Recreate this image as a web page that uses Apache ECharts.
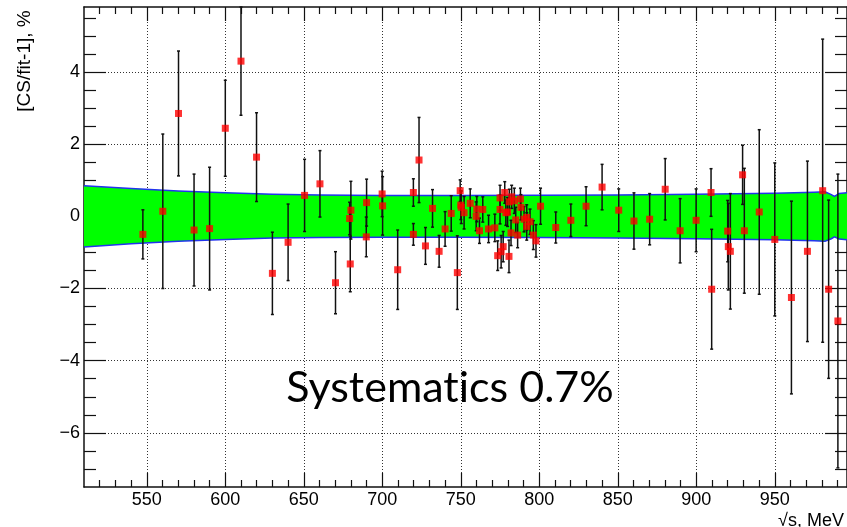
<!DOCTYPE html>
<html>
<head>
<meta charset="utf-8">
<script src="https://cdn.jsdelivr.net/npm/echarts@6/dist/echarts.min.js"></script>
<style>
html,body{margin:0;padding:0;background:#fff;}
#chart{width:847px;height:527px;}
</style>
</head>
<body>
<div id="chart"></div>
<script>
// ---- data ----
const energy = [547.5,560.2,570.2,580.1,590.0,600.0,610.0,619.9,630.0,640.0,650.5,660.3,670.2,680.0,679.2,679.6,690.0,689.8,699.9,700.2,709.8,719.8,719.8,723.4,727.5,732.0,736.2,740.0,743.9,747.8,749.6,750.0,750.3,752.1,756.0,759.8,760.2,761.9,764.0,767.7,771.7,773.5,775.0,775.0,775.7,777.0,778.0,778.7,779.8,780.7,780.9,782.0,782.4,784.1,785.0,786.2,788.0,788.3,790.3,792.0,792.0,794.1,796.2,797.9,800.8,810.5,820.1,829.8,840.0,850.6,860.3,870.3,880.2,889.7,899.9,909.4,909.8,920.0,920.4,921.7,929.5,930.6,940.1,950.0,960.6,970.8,980.5,984.3,990.2];
const ratio = [-0.50,0.14,2.85,-0.38,-0.34,2.44,4.30,1.64,-1.58,-0.72,0.58,0.90,-1.84,0.17,-0.06,-1.32,0.38,-0.57,0.62,0.29,-1.48,0.66,-0.50,1.56,-0.82,0.22,-0.97,-0.35,0.08,-1.56,0.71,0.31,0.25,0.10,0.36,0.00,0.20,-0.40,0.19,-0.35,-0.32,-1.09,0.51,0.19,-0.98,-0.84,0.66,0.10,0.12,-1.11,0.40,-0.46,0.54,0.43,-0.10,-0.52,0.48,0.25,-0.08,-0.28,-0.03,-0.15,-0.52,-0.68,0.28,-0.31,-0.11,0.28,0.81,0.17,-0.13,-0.08,0.75,-0.40,-0.11,0.66,-2.02,-0.41,-0.84,-0.97,1.15,-0.40,0.12,-0.64,-2.25,-0.97,0.71,-2.02,-2.90];
const ratioErr = [0.68,2.14,1.73,1.55,1.70,1.33,1.50,1.23,1.14,1.06,1.00,0.92,0.86,0.80,0.45,0.77,0.65,0.55,0.63,0.81,1.10,0.38,0.30,1.18,0.51,0.52,0.44,0.48,0.49,1.02,0.30,0.40,0.45,0.45,0.40,0.40,0.35,0.35,0.35,0.38,0.38,0.41,0.35,0.40,0.45,0.42,0.30,0.35,0.40,0.45,0.35,0.35,0.32,0.35,0.35,0.35,0.30,0.35,0.35,0.38,0.35,0.35,0.40,0.45,0.50,0.43,0.45,0.54,0.63,0.59,0.78,0.71,0.85,0.89,0.87,0.66,1.66,0.85,1.20,1.60,0.82,1.73,2.28,2.12,2.67,2.50,4.20,2.47,4.07];

const bandX    = [510,540,570,600,630,660,700,750,800,850,900,950,975,982,986,988,991,996];
const bandHigh = [0.85,0.77,0.70,0.65,0.61,0.59,0.58,0.58,0.585,0.59,0.61,0.64,0.67,0.68,0.60,0.55,0.63,0.65];
const bandLow  = [-0.85,-0.76,-0.69,-0.64,-0.60,-0.59,-0.58,-0.58,-0.59,-0.60,-0.62,-0.65,-0.68,-0.69,-0.62,-0.57,-0.63,-0.65];

const xMajorTicks = [550,600,650,700,750,800,850,900,950];
const xMinorTicks = [520,530,540,560,570,580,590,610,620,630,640,660,670,680,690,710,720,730,740,760,770,780,790,810,820,830,840,860,870,880,890,910,920,930,940,960,970,980,990];
const yMajorTicks = [-6,-4,-2,0,2,4];
const yMinorTicks = [-7,-6.5,-5.5,-5,-4.5,-3.5,-3,-2.5,-1.5,-1,-0.5,0.5,1,1.5,2.5,3,3.5,4.5,5,5.5];
const xRange = [510, 996];
const yRange = [-7.5, 5.8];

const yTitle = '[CS/fit-1], %';
const xTitle = '\u221As, MeV';
const note = 'Systemat\u200Cics 0.7%';

// ---- chart ----
const chart = echarts.init(document.getElementById('chart'), null, {renderer: 'canvas'});
const labelFont = 'Liberation Sans, Arial, sans-serif';
const frameLine = {show: true, onZero: false, lineStyle: {color: '#111', width: 1.5}};
const noLine = {show: false, onZero: false};
const dotted = {show: true, lineStyle: {color: '#333', width: 1, type: [1, 2]}};

function xAx(pos, ticks, len, withLabels, withLine, withSplit) {
  return {
    type: 'value', position: pos, min: xRange[0], max: xRange[1],
    axisLine: withLine ? frameLine : noLine,
    axisTick: {show: true, inside: true, length: len, customValues: ticks, lineStyle: {color: '#111', width: 1.2}},
    axisLabel: withLabels ? {show: true, customValues: ticks, fontFamily: labelFont, fontSize: 18, color: '#000', margin: 4} : {show: false},
    splitLine: withSplit ? dotted : {show: false}
  };
}
function yAx(pos, ticks, len, withLabels, withLine, withSplit) {
  return {
    type: 'value', position: pos, min: yRange[0], max: yRange[1],
    axisLine: withLine ? frameLine : noLine,
    axisTick: {show: true, inside: true, length: len, customValues: ticks, lineStyle: {color: '#111', width: 1.2}},
    axisLabel: withLabels ? {show: true, customValues: ticks, fontFamily: labelFont, fontSize: 18, color: '#000', margin: 4,
      formatter: v => (v < 0 ? '\u2212' + Math.abs(v) : String(v))} : {show: false},
    splitLine: withSplit ? dotted : {show: false}
  };
}

const pts = energy.map((x, i) => [x, ratio[i], ratioErr[i]]);

chart.setOption({
  animation: false,
  backgroundColor: '#fff',
  grid: {left: 84, right: -2.5, top: 7, bottom: 40, containLabel: false},
  xAxis: [
    xAx('bottom', xMajorTicks, 14, true, true, true),
    xAx('bottom', xMinorTicks, 7, false, false, false),
    xAx('top', xMajorTicks, 14, false, true, false),
    xAx('top', xMinorTicks, 7, false, false, false)
  ],
  yAxis: [
    yAx('left', yMajorTicks, 22, true, true, true),
    yAx('left', yMinorTicks, 12, false, false, false),
    yAx('right', yMajorTicks, 22, false, true, false),
    yAx('right', yMinorTicks, 12, false, false, false)
  ],
  series: [
    {
      type: 'custom', name: 'band', xAxisIndex: 0, yAxisIndex: 0,
      data: [0], z: 1, silent: true,
      renderItem: function (params, api) {
        const upper = bandX.map((x, i) => api.coord([x, bandHigh[i]]));
        const lower = bandX.map((x, i) => api.coord([x, bandLow[i]])).reverse();
        const poly = upper.concat(lower);
        return {
          type: 'group',
          children: [
            {type: 'polygon', shape: {points: poly}, style: {fill: '#00ff00', stroke: null}},
            {type: 'polyline', shape: {points: upper}, style: {fill: null, stroke: '#2233ee', lineWidth: 1.5}},
            {type: 'polyline', shape: {points: lower}, style: {fill: null, stroke: '#2233ee', lineWidth: 1.5}}
          ]
        };
      }
    },
    {
      type: 'custom', name: 'errors', xAxisIndex: 0, yAxisIndex: 0,
      data: pts, z: 3,
      renderItem: function (params, api) {
        const x = api.value(0), y = api.value(1), e = api.value(2);
        const top = api.coord([x, Math.min(y + e, yRange[1])]);
        const bot = api.coord([x, Math.max(y - e, yRange[0])]);
        const st = {stroke: '#111', lineWidth: 1.5};
        return {
          type: 'group',
          children: [
            {type: 'line', shape: {x1: top[0], y1: top[1], x2: bot[0], y2: bot[1]}, style: st},
            {type: 'line', shape: {x1: top[0] - 1.5, y1: top[1], x2: top[0] + 1.5, y2: top[1]}, style: st},
            {type: 'line', shape: {x1: bot[0] - 1.5, y1: bot[1], x2: bot[0] + 1.5, y2: bot[1]}, style: st}
          ]
        };
      }
    },
    {
      type: 'scatter', name: 'points', xAxisIndex: 0, yAxisIndex: 0,
      data: pts.map(p => [p[0], p[1]]),
      symbol: 'rect', symbolSize: 7,
      itemStyle: {color: '#ff0000'}, z: 4
    }
  ],
  graphic: [
    {type: 'text', x: 25, y: 61, rotation: Math.PI / 2, z: 10,
     style: {text: yTitle, font: '19px Liberation Sans, Arial, sans-serif', fill: '#000',
             textAlign: 'center', textVerticalAlign: 'middle', align: 'center', verticalAlign: 'middle'}},
    {type: 'text', x: 778, y: 521.5, z: 10,
     style: {text: xTitle, font: '18px Liberation Sans, Arial, sans-serif', fill: '#000',
             textAlign: 'left', textVerticalAlign: 'middle', align: 'left', verticalAlign: 'middle'}},
    {type: 'text', x: 450, y: 388, z: 10,
     style: {text: note, font: '43px Lato, sans-serif', fill: '#000',
             textAlign: 'center', textVerticalAlign: 'middle', align: 'center', verticalAlign: 'middle'}}
  ]
});
</script>
</body>
</html>
